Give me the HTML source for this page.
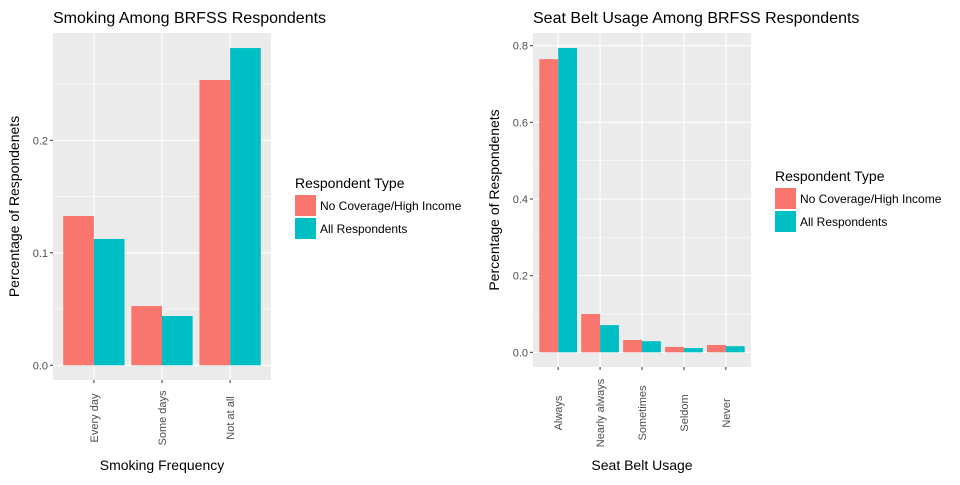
<!DOCTYPE html>
<html><head><meta charset="utf-8"><style>
body{margin:0;background:#fff;width:960px;height:480px;overflow:hidden}
svg{font-family:"Liberation Sans",Arial,sans-serif}
</style></head><body>
<svg id="chart" width="960" height="480"></svg>
<script>
const smokeCats = ["Every day","Some days","Not at all"];
const smokeNoCov = [0.1327,0.0527,0.2536];
const smokeAll = [0.1123,0.0438,0.282];
const smokeTicks = [0,0.1,0.2];
const smokeTickLabels = ["0.0","0.1","0.2"];
const beltCats = ["Always","Nearly always","Sometimes","Seldom","Never"];
const beltNoCov = [0.765,0.100,0.032,0.014,0.019];
const beltAll = [0.794,0.071,0.029,0.011,0.016];
const beltTicks = [0,0.2,0.4,0.6,0.8];
const beltTickLabels = ["0.0","0.2","0.4","0.6","0.8"];
const seriesNames = ["No Coverage/High Income","All Respondents"];
const colors = ["#F8766D","#00BFC4"];

const NS="http://www.w3.org/2000/svg";
const svg=document.getElementById('chart');
function mk(tag,attrs,parent,text){const e=document.createElementNS(NS,tag);for(const k in attrs)e.setAttribute(k,attrs[k]);if(text!==undefined)e.textContent=text;(parent||svg).appendChild(e);return e;}

function panel(o){
  const g=mk('g',{});
  
  
  const {x0,x1,y0,y1,zeroY,pxPerUnit,cats,s1,s2,ticks,tickLabels}=o;
  const yS=v=>zeroY-v*pxPerUnit;
  const n=cats.length;
  const step=(x1-x0)/(n+0.2);
  const xS=i=>x0+step*(0.6+i);
  const bg=mk('rect',{x:x0,y:y0,width:x1-x0,height:y1-y0,fill:'#EBEBEB'},g);
  
  
  for(let i=0;i<ticks.length;i++){
    const mv=ticks[i]+(ticks[1]-ticks[0])/2;const my=yS(mv);
    if(my>y0) mk('line',{x1:x0,x2:x1,y1:my,y2:my,stroke:'#fff','stroke-width':0.5},g);
  }
  ticks.forEach((t,i)=>{
    const y=yS(t);
    const gl=mk('line',{x1:x0,x2:x1,y1:y,y2:y,stroke:'#fff','stroke-width':1.1},g);
    
    
    mk('line',{x1:x0-3,x2:x0,y1:y,y2:y,stroke:'#333','stroke-width':1},g);
    const tl=mk('text',{x:x0-5,y:y+4,'text-anchor':'end','font-size':11,fill:'#4D4D4D'},g,tickLabels[i]);
    
    
  });
  cats.forEach((c,i)=>{
    const cx=xS(i);
    mk('line',{x1:cx,x2:cx,y1:y0,y2:y1,stroke:'#fff','stroke-width':1.1},g);
  });
  const bw=step*0.45;
  cats.forEach((c,i)=>{
    const cx=xS(i);
    const r1=mk('rect',{x:cx-bw,y:yS(s1[i]),width:bw,height:yS(0)-yS(s1[i]),fill:colors[0]},g);
    
    
    const r2=mk('rect',{x:cx,y:yS(s2[i]),width:bw,height:yS(0)-yS(s2[i]),fill:colors[1]},g);
    
    
    mk('line',{x1:cx,x2:cx,y1:y1,y2:y1+3,stroke:'#333','stroke-width':1},g);
    const tl=mk('text',{transform:`translate(${cx+4},${o.labelCy}) rotate(-90)`,'text-anchor':'middle','font-size':11,fill:'#4D4D4D'},g,c);
    
    
  });
  const t=mk('text',{x:x0,y:23,'font-size':16,fill:'#000'},g,o.title);
  
  
  const xt=mk('text',{x:(x0+x1)/2,y:470,'text-anchor':'middle','font-size':14,fill:'#000'},g,o.xTitle);
  
  
  const yt=mk('text',{transform:`translate(${x0-34},${(y0+y1)/2}) rotate(-90)`,'text-anchor':'middle','font-size':14,fill:'#000'},g,'Percentage of Respondenets');
  
  
  const lg=mk('g',{},g);
  
  
  mk('text',{x:o.lx,y:o.ly,'font-size':14,fill:'#000'},lg,'Respondent Type');
  seriesNames.forEach((s,i)=>{
    const ky=o.ly+7+i*23;
    const k=mk('rect',{x:o.lx,y:ky,width:21,height:21,fill:colors[i]},lg);
    
    
    const lt=mk('text',{x:o.lx+25,y:ky+15,'font-size':12,fill:'#000'},lg,s);
    
    
  });
}
panel({id:'smoking',x0:53,x1:271,y0:33,y1:380,zeroY:365.3,pxPerUnit:1125,cats:smokeCats,s1:smokeNoCov,s2:smokeAll,ticks:smokeTicks,tickLabels:smokeTickLabels,title:'Smoking Among BRFSS Respondents',xTitle:'Smoking Frequency',lx:295,ly:188,labelCy:418});
panel({id:'seatbelt',x0:533,x1:751,y0:33,y1:367,zeroY:352.3,pxPerUnit:383.25,cats:beltCats,s1:beltNoCov,s2:beltAll,ticks:beltTicks,tickLabels:beltTickLabels,title:'Seat Belt Usage Among BRFSS Respondents',xTitle:'Seat Belt Usage',lx:775,ly:181,labelCy:413});
</script>
</body></html>
